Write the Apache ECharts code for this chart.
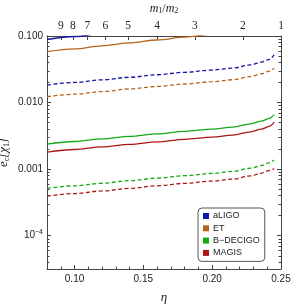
<!DOCTYPE html>
<html><head><meta charset="utf-8">
<script src="https://cdn.jsdelivr.net/npm/echarts@6/dist/echarts.min.js"></script>
<style>html,body{margin:0;padding:0;background:#fff}#c{width:291px;height:304px}</style>
</head><body><div id="c"></div>
<script>
// eta grid (x values)
const eta = [0.08, 0.10, 0.12, 0.14, 0.16, 0.18, 0.20, 0.215, 0.228, 0.236, 0.241, 0.245];
// solid curves
const aLIGO_solid   = [0.0886, 0.0983, 0.109, 0.121, 0.134, 0.148, 0.163, 0.176, 0.198, 0.218, 0.238, 0.27];
const ET_solid      = [0.0581, 0.0642, 0.0713, 0.0786, 0.0871, 0.0963, 0.1065, 0.1161, 0.1309, 0.1452, 0.1584, 0.1819];
const BDECIGO_solid = [0.002377, 0.002600, 0.002845, 0.003111, 0.003397, 0.003699, 0.004000, 0.004286, 0.004787, 0.005272, 0.005740, 0.00660];
const MAGIS_solid   = [0.001803, 0.001972, 0.002158, 0.002360, 0.002576, 0.002805, 0.003034, 0.003251, 0.003631, 0.003999, 0.004354, 0.00510];
// dashed curves
const aLIGO_dash    = [0.01832, 0.02004, 0.02193, 0.02398, 0.02618, 0.02851, 0.03083, 0.03303, 0.03690, 0.04063, 0.04424, 0.0520];
const ET_dash       = [0.01222, 0.01337, 0.01463, 0.01600, 0.01746, 0.01901, 0.02057, 0.02203, 0.02461, 0.02710, 0.02951, 0.0328];
const BDECIGO_dash  = [0.000513, 0.000561, 0.000614, 0.000672, 0.000733, 0.000798, 0.000863, 0.000925, 0.001033, 0.001138, 0.001239, 0.00137];
const MAGIS_dash    = [0.000393, 0.000430, 0.000470, 0.000514, 0.000562, 0.000612, 0.000661, 0.000709, 0.000792, 0.000872, 0.000949, 0.00102];

const names  = ['aLIGO', 'ET', 'B\u2212DECIGO', 'MAGIS'];
const colors = ['#1616a4', '#b5651b', '#15a815', '#ad1616'];

// tick labels
const xTickValues = [0.10, 0.15, 0.20, 0.25];
const xTickLabels = ['0.10', '0.15', '0.20', '0.25'];
const yTickValues = [1e-4, 1e-3, 1e-2, 1e-1];
const yTickLabels = ['{b|10}{s|\u22124}', '0.001', '0.010', '0.100'];
const qTicks = [9, 8, 7, 6, 5, 4, 3, 2, 1];

const L10 = Math.log10;
const etaOfQ = q => q / ((1 + q) * (1 + q));
const qEta = qTicks.map(etaOfQ);

const yMajor = yTickValues.map(L10);
const yMinor = [];
for (let n = -5; n <= -2; n++) for (let k = 2; k <= 9; k++) {
  const v = L10(k) + n; if (v >= -4.5 && v <= -1) yMinor.push(v);
}
const xMinor = [];
for (let i = 8; i <= 25; i++) { const v = i / 100; if (i % 5 !== 0) xMinor.push(v); }

const axisCol = '#444';
const txt = '#222';

function mk(idx, data, dashed) {
  return {
    type: 'line', name: names[idx],
    data: eta.map((x, i) => [x, L10(data[i])]),
    xAxisIndex: 0, yAxisIndex: 0,
    symbol: 'none', showSymbol: false,
    smooth: 0.35, smoothMonotone: 'x',
    clip: true, silent: true,
    itemStyle: { color: colors[idx] },
    lineStyle: { color: colors[idx], width: 1.3, type: dashed ? [4, 2.5] : 'solid' },
    z: dashed ? 3 : 4
  };
}

const baseX = { type: 'value', min: 0.08, max: 0.25, splitLine: { show: false } };
const baseY = { type: 'value', min: -4.5, max: -1, splitLine: { show: false } };

const option = {
  animation: false,
  backgroundColor: '#fff',
  grid: { left: 47, right: 10, top: 36, bottom: 35, containLabel: false, outerBoundsMode: 'none' },
  legend: {
    data: names, orient: 'vertical', left: 198, top: 208,
    icon: 'rect', itemWidth: 6, itemHeight: 6, itemGap: 3.3,
    padding: [3.5, 5, 4, 5],
    backgroundColor: '#fff', borderColor: '#555', borderWidth: 1, borderRadius: 4,
    itemStyle: { borderWidth: 0 },
    textStyle: { fontFamily: 'Liberation Sans', fontSize: 9, color: txt, padding: [0, 0, 0, -1] },
    selectedMode: false
  },
  xAxis: [
    Object.assign({}, baseX, {
      position: 'bottom',
      axisLine: { show: true, lineStyle: { color: axisCol, width: 1 } },
      axisTick: { show: true, inside: true, length: 4, customValues: xTickValues, lineStyle: { color: axisCol } },
      axisLabel: { show: true, customValues: xTickValues, margin: 5,
        formatter: v => xTickLabels[xTickValues.findIndex(t => Math.abs(t - v) < 1e-9)] || '',
        fontFamily: 'Liberation Sans', fontSize: 10, color: txt },
      name: '\u03b7', nameLocation: 'middle', nameGap: 22,
      nameTextStyle: { fontFamily: 'Liberation Serif', fontStyle: 'italic', fontSize: 13, color: txt, verticalAlign: 'top' }
    }),
    Object.assign({}, baseX, {
      position: 'bottom',
      axisLine: { show: false },
      axisTick: { show: true, inside: true, length: 2.5, customValues: xMinor, lineStyle: { color: axisCol } },
      axisLabel: { show: false }
    }),
    Object.assign({}, baseX, {
      position: 'top',
      axisLine: { show: true, lineStyle: { color: axisCol, width: 1 } },
      axisTick: { show: true, inside: true, length: 4, customValues: qEta, lineStyle: { color: axisCol } },
      axisLabel: { show: true, customValues: qEta, margin: 4,
        formatter: v => { const i = qEta.findIndex(t => Math.abs(t - v) < 1e-9); return i >= 0 ? String(qTicks[i]) : ''; },
        fontFamily: 'Liberation Serif', fontSize: 11.5, color: txt },
      name: '{i|m}{s|1}{n|/}{i|m}{s|2}', nameLocation: 'middle', nameGap: 20,
      nameTextStyle: { verticalAlign: 'bottom', rich: {
        i: { fontFamily: 'Liberation Serif', fontStyle: 'italic', fontSize: 12, color: txt },
        n: { fontFamily: 'Liberation Serif', fontSize: 12, color: txt },
        s: { fontFamily: 'Liberation Serif', fontSize: 8, color: txt, padding: [5, 0, 0, 0] }
      } }
    })
  ],
  yAxis: [
    Object.assign({}, baseY, {
      position: 'left',
      axisLine: { show: true, lineStyle: { color: axisCol, width: 1 } },
      axisTick: { show: true, inside: true, length: 4, customValues: yMajor, lineStyle: { color: axisCol } },
      axisLabel: { show: true, customValues: yMajor, margin: 4,
        formatter: v => { const i = yMajor.findIndex(t => Math.abs(t - v) < 1e-9); return i >= 0 ? yTickLabels[i] : ''; },
        fontFamily: 'Liberation Sans', fontSize: 10, color: txt,
        rich: {
          b: { fontFamily: 'Liberation Sans', fontSize: 10, color: txt },
          s: { fontFamily: 'Liberation Sans', fontSize: 7, color: txt, padding: [0, 0, 7, 0] }
        } },
      name: '{i|e}{s|c}{n|[\u03c7}{s|1}{n|]}', nameLocation: 'middle', nameGap: 36, nameRotate: 90,
      nameMoveOverlap: false,
      nameTextStyle: { verticalAlign: 'bottom', rich: {
        i: { fontFamily: 'Liberation Serif', fontStyle: 'italic', fontSize: 13, color: txt, lineHeight: 14 },
        n: { fontFamily: 'Liberation Serif', fontStyle: 'italic', fontSize: 13, color: txt, lineHeight: 14 },
        s: { fontFamily: 'Liberation Serif', fontSize: 8, color: txt, lineHeight: 14, padding: [5, 0, 0, 0] }
      } }
    }),
    Object.assign({}, baseY, {
      position: 'left',
      axisLine: { show: false },
      axisTick: { show: true, inside: true, length: 2.5, customValues: yMinor, lineStyle: { color: axisCol } },
      axisLabel: { show: false }
    }),
    Object.assign({}, baseY, {
      position: 'right',
      axisLine: { show: true, lineStyle: { color: axisCol, width: 1 } },
      axisTick: { show: true, inside: true, length: 4, customValues: yMajor, lineStyle: { color: axisCol } },
      axisLabel: { show: false }
    }),
    Object.assign({}, baseY, {
      position: 'right',
      axisLine: { show: false },
      axisTick: { show: true, inside: true, length: 2.5, customValues: yMinor, lineStyle: { color: axisCol } },
      axisLabel: { show: false }
    })
  ],
  series: [
    mk(0, aLIGO_solid, false), mk(1, ET_solid, false), mk(2, BDECIGO_solid, false), mk(3, MAGIS_solid, false),
    mk(0, aLIGO_dash, true), mk(1, ET_dash, true), mk(2, BDECIGO_dash, true), mk(3, MAGIS_dash, true)
  ]
};

const chart = echarts.init(document.getElementById('c'), null, { renderer: 'canvas' });
chart.setOption(option);
</script>
</body></html>
